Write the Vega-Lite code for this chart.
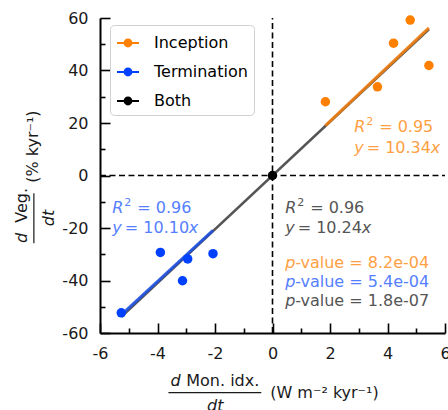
{
  "$schema": "https://vega.github.io/schema/vega-lite/v6.json",
  "width": 345,
  "height": 315,
  "autosize": {"type": "none"},
  "padding": {"left": 100, "top": 18, "right": 3, "bottom": 77},
  "background": "white",
  "datasets": {
    "points": [
      {"group": "Inception", "x": 1.84, "y": 28.1},
      {"group": "Inception", "x": 3.65, "y": 33.8},
      {"group": "Inception", "x": 4.21, "y": 50.4},
      {"group": "Inception", "x": 4.79, "y": 59.2},
      {"group": "Inception", "x": 5.44, "y": 41.9},
      {"group": "Termination", "x": -5.26, "y": -52.3},
      {"group": "Termination", "x": -3.9, "y": -29.3},
      {"group": "Termination", "x": -3.13, "y": -40.1},
      {"group": "Termination", "x": -2.95, "y": -31.8},
      {"group": "Termination", "x": -2.07, "y": -29.8},
      {"group": "Both", "x": 0, "y": 0}
    ],
    "fits": [
      {"fit": "Both", "x": -5.26, "y": -53.86},
      {"fit": "Both", "x": 5.44, "y": 55.71},
      {"fit": "Inception", "x": 1.84, "y": 19.03},
      {"fit": "Inception", "x": 5.44, "y": 56.25},
      {"fit": "Termination", "x": -5.26, "y": -53.13},
      {"fit": "Termination", "x": -2.07, "y": -20.91}
    ]
  },
  "resolve": {"axis": {"x": "independent", "y": "independent"}},
  "layer": [
    {
      "data": {"values": [{}]},
      "mark": {"type": "rule", "color": "black", "strokeWidth": 1.6, "strokeDash": [6, 3.5]},
      "encoding": {
        "x": {
          "datum": 0, "type": "quantitative",
          "axis": {"orient": "bottom", "title": null, "values": [-6, -4, -2, 0, 2, 4, 6], "domain": false, "labels": false, "tickSize": 10, "offset": -10}
        },
        "y": {
          "datum": -60, "type": "quantitative",
          "axis": {"orient": "left", "title": null, "values": [-60, -40, -20, 0, 20, 40, 60], "domain": false, "labels": false, "tickSize": 10, "offset": -10}
        },
        "y2": {"datum": 60}
      }
    },
    {
      "data": {"values": [{}]},
      "mark": {"type": "rule", "color": "black", "strokeWidth": 1.6, "strokeDash": [6, 3.5]},
      "encoding": {
        "y": {
          "datum": 0, "type": "quantitative",
          "axis": {"orient": "left", "title": null, "values": [-50, -30, -10, 10, 30, 50], "domain": false, "labels": false, "tickSize": 5, "offset": -5}
        },
        "x": {
          "datum": -6, "type": "quantitative",
          "axis": {"orient": "bottom", "title": null, "values": [-5, -3, -1, 1, 3, 5], "domain": false, "labels": false, "tickSize": 5, "offset": -5}
        },
        "x2": {"datum": 6}
      }
    },
    {
      "layer": [
        {
          "data": {"name": "fits"},
          "transform": [{"filter": "datum.fit === 'Both'"}],
          "mark": {"type": "line", "color": "#555555", "strokeWidth": 2.6},
          "encoding": {
            "x": {"field": "x", "type": "quantitative"},
            "y": {"field": "y", "type": "quantitative"}
          }
        },
        {
          "data": {"name": "fits"},
          "transform": [{"filter": "datum.fit === 'Inception'"}],
          "mark": {"type": "line", "color": "#f07e12", "strokeWidth": 3, "opacity": 0.9},
          "encoding": {
            "x": {"field": "x", "type": "quantitative"},
            "y": {"field": "y", "type": "quantitative"}
          }
        },
        {
          "data": {"name": "fits"},
          "transform": [{"filter": "datum.fit === 'Termination'"}],
          "mark": {"type": "line", "color": "#1f50e0", "strokeWidth": 3, "opacity": 0.9},
          "encoding": {
            "x": {"field": "x", "type": "quantitative"},
            "y": {"field": "y", "type": "quantitative"}
          }
        },
        {
          "data": {"name": "points"},
          "mark": {"type": "point", "filled": true, "size": 90, "opacity": 1},
          "encoding": {
            "x": {
              "field": "x", "type": "quantitative",
              "scale": {"domain": [-6, 6], "nice": false, "zero": false},
              "axis": {
                "orient": "bottom",
                "title": null,
                "values": [-6, -4, -2, 0, 2, 4, 6],
                "labelExpr": "'' + datum.value",
                "ticks": false,
                "tickSize": 0,
                "labelPadding": 12
              }
            },
            "y": {
              "field": "y", "type": "quantitative",
              "scale": {"domain": [-60, 60], "nice": false, "zero": false},
              "axis": {
                "orient": "left",
                "title": null,
                "values": [-60, -40, -20, 0, 20, 40, 60],
                "labelExpr": "'' + datum.value",
                "ticks": false,
                "tickSize": 0,
                "labelPadding": 12
              }
            },
            "color": {
              "field": "group", "type": "nominal",
              "scale": {"domain": ["Inception", "Termination", "Both"], "range": ["#ff7f00", "#0040ff", "#000000"]},
              "legend": {
                "title": null,
                "orient": "none",
                "legendX": 10,
                "legendY": 7,
                "fillColor": "white",
                "strokeColor": "#d0d0d0",
                "cornerRadius": 4,
                "padding": 6,
                "symbolType": "M-1,-0.09H1V0.09H-1ZM0.4,0A0.4,0.4,0,1,1,-0.4,0A0.4,0.4,0,1,1,0.4,0Z",
                "symbolSize": 484,
                "labelFont": "DejaVu Sans",
                "labelFontSize": 16,
                "labelColor": "black",
                "labelOffset": 14,
                "rowPadding": 9,
                "encode": {
                  "legend": {"update": {"strokeWidth": {"value": 2}}},
                  "symbols": {
                    "update": {
                      "fill": {"scale": "color", "field": "value"},
                      "opacity": {"value": 1}
                    }
                  }
                }
              }
            }
          }
        },
        {
          "data": {"values": [{}]},
          "layer": [
            {"mark": {"type": "text", "fontStyle": "italic", "color": "#ff9f45"},
             "encoding": {"x": {"datum": 2.84, "type": "quantitative"}, "y": {"datum": 18.3, "type": "quantitative"}, "text": {"value": "R"}}},
            {"mark": {"type": "text", "fontSize": 11, "dx": 12, "dy": -5, "color": "#ff9f45"},
             "encoding": {"x": {"datum": 2.84, "type": "quantitative"}, "y": {"datum": 18.3, "type": "quantitative"}, "text": {"value": "2"}}},
            {"mark": {"type": "text", "dx": 25, "color": "#ff9f45"},
             "encoding": {"x": {"datum": 2.84, "type": "quantitative"}, "y": {"datum": 18.3, "type": "quantitative"}, "text": {"value": "= 0.95"}}},
            {"mark": {"type": "text", "fontStyle": "italic", "color": "#ff9f45"},
             "encoding": {"x": {"datum": 2.84, "type": "quantitative"}, "y": {"datum": 10.4, "type": "quantitative"}, "text": {"value": "y"}}},
            {"mark": {"type": "text", "dx": 12.5, "color": "#ff9f45"},
             "encoding": {"x": {"datum": 2.84, "type": "quantitative"}, "y": {"datum": 10.4, "type": "quantitative"}, "text": {"value": "= 10.34"}}},
            {"mark": {"type": "text", "fontStyle": "italic", "dx": 76.5, "color": "#ff9f45"},
             "encoding": {"x": {"datum": 2.84, "type": "quantitative"}, "y": {"datum": 10.4, "type": "quantitative"}, "text": {"value": "x"}}},

            {"mark": {"type": "text", "fontStyle": "italic", "color": "#5580ff"},
             "encoding": {"x": {"datum": -5.57, "type": "quantitative"}, "y": {"datum": -12.2, "type": "quantitative"}, "text": {"value": "R"}}},
            {"mark": {"type": "text", "fontSize": 11, "dx": 12, "dy": -5, "color": "#5580ff"},
             "encoding": {"x": {"datum": -5.57, "type": "quantitative"}, "y": {"datum": -12.2, "type": "quantitative"}, "text": {"value": "2"}}},
            {"mark": {"type": "text", "dx": 25, "color": "#5580ff"},
             "encoding": {"x": {"datum": -5.57, "type": "quantitative"}, "y": {"datum": -12.2, "type": "quantitative"}, "text": {"value": "= 0.96"}}},
            {"mark": {"type": "text", "fontStyle": "italic", "color": "#5580ff"},
             "encoding": {"x": {"datum": -5.57, "type": "quantitative"}, "y": {"datum": -20.1, "type": "quantitative"}, "text": {"value": "y"}}},
            {"mark": {"type": "text", "dx": 12.5, "color": "#5580ff"},
             "encoding": {"x": {"datum": -5.57, "type": "quantitative"}, "y": {"datum": -20.1, "type": "quantitative"}, "text": {"value": "= 10.10"}}},
            {"mark": {"type": "text", "fontStyle": "italic", "dx": 76.5, "color": "#5580ff"},
             "encoding": {"x": {"datum": -5.57, "type": "quantitative"}, "y": {"datum": -20.1, "type": "quantitative"}, "text": {"value": "x"}}},

            {"mark": {"type": "text", "fontStyle": "italic", "color": "#555555"},
             "encoding": {"x": {"datum": 0.44, "type": "quantitative"}, "y": {"datum": -12.2, "type": "quantitative"}, "text": {"value": "R"}}},
            {"mark": {"type": "text", "fontSize": 11, "dx": 12, "dy": -5, "color": "#555555"},
             "encoding": {"x": {"datum": 0.44, "type": "quantitative"}, "y": {"datum": -12.2, "type": "quantitative"}, "text": {"value": "2"}}},
            {"mark": {"type": "text", "dx": 25, "color": "#555555"},
             "encoding": {"x": {"datum": 0.44, "type": "quantitative"}, "y": {"datum": -12.2, "type": "quantitative"}, "text": {"value": "= 0.96"}}},
            {"mark": {"type": "text", "fontStyle": "italic", "color": "#555555"},
             "encoding": {"x": {"datum": 0.44, "type": "quantitative"}, "y": {"datum": -20.1, "type": "quantitative"}, "text": {"value": "y"}}},
            {"mark": {"type": "text", "dx": 12.5, "color": "#555555"},
             "encoding": {"x": {"datum": 0.44, "type": "quantitative"}, "y": {"datum": -20.1, "type": "quantitative"}, "text": {"value": "= 10.24"}}},
            {"mark": {"type": "text", "fontStyle": "italic", "dx": 76.5, "color": "#555555"},
             "encoding": {"x": {"datum": 0.44, "type": "quantitative"}, "y": {"datum": -20.1, "type": "quantitative"}, "text": {"value": "x"}}},

            {"mark": {"type": "text", "fontStyle": "italic", "color": "#ff9f45"},
             "encoding": {"x": {"datum": 0.44, "type": "quantitative"}, "y": {"datum": -33.4, "type": "quantitative"}, "text": {"value": "p"}}},
            {"mark": {"type": "text", "dx": 10, "color": "#ff9f45"},
             "encoding": {"x": {"datum": 0.44, "type": "quantitative"}, "y": {"datum": -33.4, "type": "quantitative"}, "text": {"value": "-value = 8.2e-04"}}},
            {"mark": {"type": "text", "fontStyle": "italic", "color": "#5580ff"},
             "encoding": {"x": {"datum": 0.44, "type": "quantitative"}, "y": {"datum": -40.4, "type": "quantitative"}, "text": {"value": "p"}}},
            {"mark": {"type": "text", "dx": 10, "color": "#5580ff"},
             "encoding": {"x": {"datum": 0.44, "type": "quantitative"}, "y": {"datum": -40.4, "type": "quantitative"}, "text": {"value": "-value = 5.4e-04"}}},
            {"mark": {"type": "text", "fontStyle": "italic", "color": "#555555"},
             "encoding": {"x": {"datum": 0.44, "type": "quantitative"}, "y": {"datum": -47.8, "type": "quantitative"}, "text": {"value": "p"}}},
            {"mark": {"type": "text", "dx": 10, "color": "#555555"},
             "encoding": {"x": {"datum": 0.44, "type": "quantitative"}, "y": {"datum": -47.8, "type": "quantitative"}, "text": {"value": "-value = 1.8e-07"}}},

            {"mark": {"type": "text", "fontStyle": "italic", "color": "#1a1a1a"},
             "encoding": {"x": {"datum": -3.55, "type": "quantitative"}, "y": {"datum": -78.3, "type": "quantitative"}, "text": {"value": "d"}}},
            {"mark": {"type": "text", "color": "#1a1a1a"},
             "encoding": {"x": {"datum": -3.0, "type": "quantitative"}, "y": {"datum": -78.3, "type": "quantitative"}, "text": {"value": "Mon. idx."}}},
            {"mark": {"type": "rule", "color": "#1a1a1a", "strokeWidth": 1.2},
             "encoding": {"x": {"datum": -3.62, "type": "quantitative"}, "x2": {"datum": -0.39}, "y": {"datum": -82.7, "type": "quantitative"}}},
            {"mark": {"type": "text", "fontStyle": "italic", "align": "center", "color": "#1a1a1a"},
             "encoding": {"x": {"datum": -1.99, "type": "quantitative"}, "y": {"datum": -87.8, "type": "quantitative"}, "text": {"value": "dt"}}},
            {"mark": {"type": "text", "color": "#1a1a1a"},
             "encoding": {"x": {"datum": -0.08, "type": "quantitative"}, "y": {"datum": -82.9, "type": "quantitative"}, "text": {"value": "(W m⁻² kyr⁻¹)"}}},

            {"mark": {"type": "text", "fontStyle": "italic", "angle": 270, "color": "#1a1a1a"},
             "encoding": {"x": {"datum": -8.7, "type": "quantitative"}, "y": {"datum": -25.7, "type": "quantitative"}, "text": {"value": "d"}}},
            {"mark": {"type": "text", "angle": 270, "color": "#1a1a1a"},
             "encoding": {"x": {"datum": -8.7, "type": "quantitative"}, "y": {"datum": -18.0, "type": "quantitative"}, "text": {"value": "Veg."}}},
            {"mark": {"type": "rule", "color": "#1a1a1a", "strokeWidth": 1.2},
             "encoding": {"x": {"datum": -8.3, "type": "quantitative"}, "y": {"datum": -25.8, "type": "quantitative"}, "y2": {"datum": -6.8}}},
            {"mark": {"type": "text", "fontStyle": "italic", "angle": 270, "align": "center", "color": "#1a1a1a"},
             "encoding": {"x": {"datum": -7.79, "type": "quantitative"}, "y": {"datum": -16.2, "type": "quantitative"}, "text": {"value": "dt"}}},
            {"mark": {"type": "text", "angle": 270, "align": "center", "color": "#1a1a1a"},
             "encoding": {"x": {"datum": -8.33, "type": "quantitative"}, "y": {"datum": 11.0, "type": "quantitative"}, "text": {"value": "(% kyr⁻¹)"}}}
          ]
        }
      ]
    }
  ],
  "config": {
    "font": "DejaVu Sans",
    "view": {"stroke": null},
    "text": {"font": "DejaVu Sans", "fontSize": 16, "align": "left", "baseline": "middle"},
    "axis": {
      "domainColor": "black",
      "domainWidth": 2,
      "tickColor": "black",
      "tickWidth": 1.6,
      "labelFont": "DejaVu Sans",
      "labelFontSize": 16,
      "labelColor": "#1a1a1a",
      "grid": false,
      "labelOverlap": false,
      "labelFlush": false
    }
  }
}
